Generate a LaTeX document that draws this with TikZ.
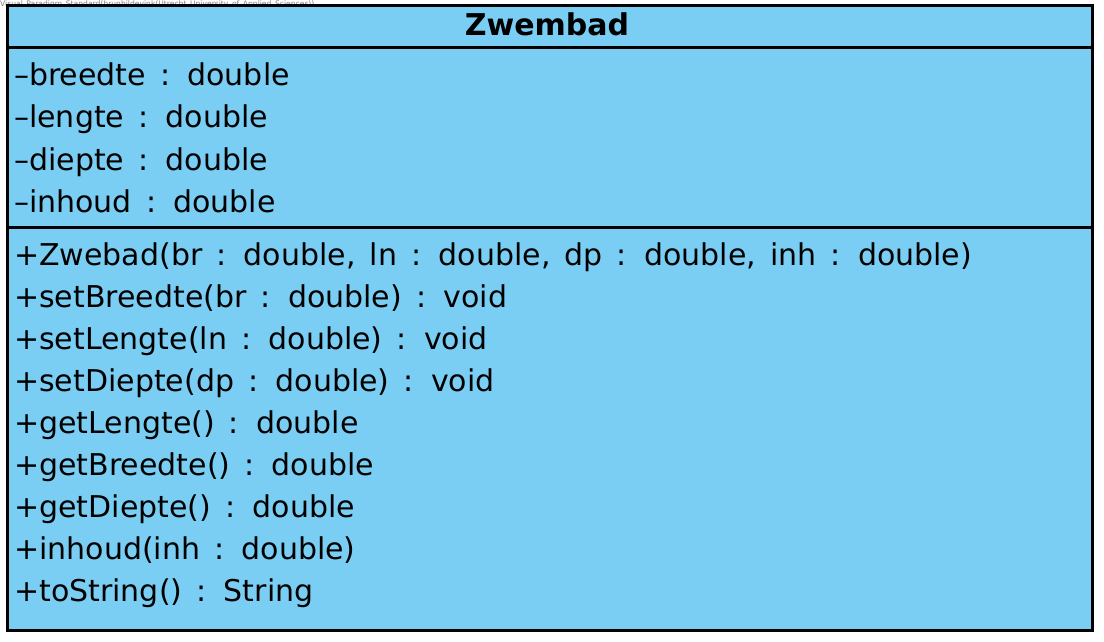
\documentclass[tikz,border=0pt]{standalone}
\usepackage{fontspec}
\setmainfont{DejaVu Sans}[WordSpace=1.48]
\usetikzlibrary{positioning}
\definecolor{umlblue}{RGB}{122,206,244}
\begin{document}
\begin{tikzpicture}[x=1pt, y=-1pt, line join=miter,
		member/.style={anchor=base west, inner sep=0pt, font=\fontsize{30}{30}\selectfont},
		rule/.style={line width=3pt}]
	\def\xl{7} \def\xr{1092}
	\def\yt{6} \def\yb{630}
	\useasboundingbox (0,0) rectangle (1104,642);
	\node[anchor=north west, inner sep=0pt, text=gray, font=\fontsize{7.6}{7.6}\selectfont] (wm) at (0,0.3) {Visual Paradigm Standard(brunhildevink(Utrecht University of Applied Sciences))};
	% class box
	\draw[rule, fill=umlblue] (\xl,\yt) rectangle (\xr,\yb);
	\draw[rule] (\xl,48)--(\xr,48) (\xl,227)--(\xr,227);
	\node[anchor=base, inner sep=0pt, font=\bfseries\fontsize{30}{30}\selectfont] (title) at (547,36) {Zwembad};
	% attributes
	\foreach \t [count=\i from 0] in {breedte,lengte,diepte,inhoud}
		\node[member] (a\i) at (14,86+42*\i) {–\t\ : double};
	% operations
	\foreach \t [count=\i from 0] in {{Zwebad(br : double, ln : double, dp : double, inh : double)},
			{setBreedte(br : double) : void},{setLengte(ln : double) : void},{setDiepte(dp : double) : void},
			{getLengte() : double},{getBreedte() : double},{getDiepte() : double},
			{inhoud(inh : double)},{toString() : String}}
		\node[member] (m\i) at (14,265+42*\i) {+\t};
\end{tikzpicture}
\end{document}
